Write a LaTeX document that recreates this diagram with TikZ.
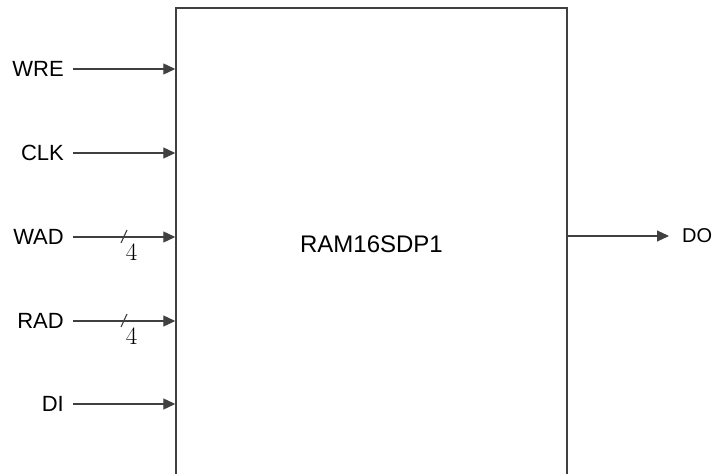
\documentclass[tikz,border=0pt]{standalone}
\usepackage{fontspec}
\setmainfont{Liberation Sans}
\newfontfamily\lmrom{Latin Modern Roman}
\usetikzlibrary{arrows.meta}
\definecolor{ln}{HTML}{404040}
\tikzset{
  lbl/.style={inner sep=0pt, font=\fontsize{22}{26}\selectfont, anchor=east},
  sig/.style={draw=ln, line width=1.1pt, -{Triangle[length=12pt,width=11pt]}},
  blk/.style={draw=ln, line width=1.4pt, rectangle, inner sep=0pt,
              font=\fontsize{24}{28}\selectfont},
  busmark/.style={draw=ln, line width=1.1pt},
  buswidth/.style={inner sep=0pt, font=\lmrom\fontsize{25}{28}\selectfont}
}
\begin{document}
\begin{tikzpicture}[x=1pt,y=-1pt]
\useasboundingbox (0,0) rectangle (713,474);
\clip (0,0) rectangle (713,474);
\node[blk, minimum width=391pt, minimum height=472pt] (box) at (371.5,244) {RAM16SDP1};
\node[lbl] (WRE) at (64,69) {WRE};
\node[lbl] (CLK) at (64,153) {CLK};
\node[lbl] (WAD) at (64,237) {WAD};
\node[lbl] (RAD) at (64,321) {RAD};
\node[lbl] (DI) at (64,404) {DI};
\node[inner sep=0pt, anchor=west, font=\fontsize{20}{24}\selectfont] (DO) at (682,236) {DO};
\draw[sig] ([xshift=9pt]WRE.east) -- (WRE -| box.west);
\draw[sig] ([xshift=9pt]CLK.east) -- (CLK -| box.west);
\draw[sig] ([xshift=9pt]WAD.east) -- (WAD -| box.west);
\draw[sig] ([xshift=9pt]RAD.east) -- (RAD -| box.west);
\draw[sig] ([xshift=9pt]DI.east) -- (DI -| box.west);
\draw[sig] (DO -| box.east) -- ([xshift=-13pt]DO.west);
\coordinate (wadbus) at (124,236.5);
\coordinate (radbus) at (124,320.5);
\draw[busmark] ([shift={(-3,6.5)}]wadbus) -- ([shift={(3,-6.5)}]wadbus);
\draw[busmark] ([shift={(-3,6.5)}]radbus) -- ([shift={(3,-6.5)}]radbus);
\node[buswidth] (wadw) at (131.5,252) {4};
\node[buswidth] (radw) at (131.5,336) {4};
\end{tikzpicture}
\end{document}
